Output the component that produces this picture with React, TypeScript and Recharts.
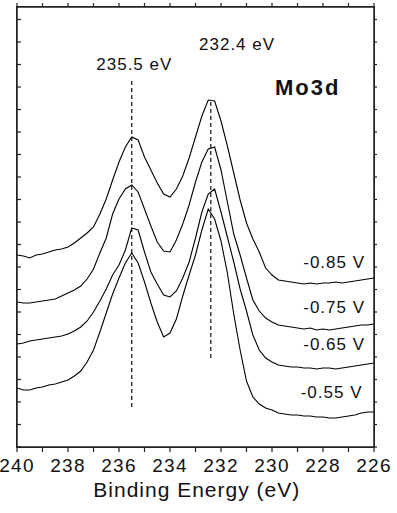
import { LineChart, Line, XAxis, YAxis, ReferenceLine, ReferenceDot } from "recharts";

const FONT = '"Liberation Sans", Arial, sans-serif';
const INK = "#111";
const FRAME = "#222";

// Binding energy grid (eV), high -> low as in the original scan
const ENERGY_EV = [
  240, 239.75, 239.5, 239.25, 239, 238.75, 238.5, 238.25, 238, 237.75, 237.5, 237.25, 237, 236.75,
  236.5, 236.25, 236, 235.75, 235.5, 235.25, 235, 234.75, 234.5, 234.25, 234, 233.75, 233.5, 233.25,
  233, 232.75, 232.5, 232.25, 232, 231.75, 231.5, 231.25, 231, 230.75, 230.5, 230.25, 230, 229.75,
  229.5, 229.25, 229, 228.75, 228.5, 228.25, 228, 227.75, 227.5, 227.25, 227, 226.75, 226.5, 226.25, 226,
];

// Intensity (a.u., spectra already offset for stacking)
const MO3D_085V = [
  192, 191, 189, 192, 193, 195, 197, 198, 200, 204, 209, 214, 220, 233, 248, 267, 285, 300, 310, 307,
  290, 277, 264, 253, 250, 258, 271, 289, 310, 331, 347, 346, 326, 301, 274, 247, 224, 208, 195, 179,
  172, 167, 166, 165, 164, 163, 164, 163, 164, 164, 165, 164, 165, 166, 167, 168, 169,
];
const MO3D_075V = [
  145, 144, 144, 145, 146, 147, 148, 151, 154, 157, 161, 168, 178, 194, 209, 233, 248, 258, 262, 255,
  238, 221, 205, 196, 195, 207, 223, 242, 265, 285, 298, 300, 277, 245, 213, 192, 169, 147, 136, 129,
  125, 122, 121, 120, 119, 118, 119, 117, 118, 117, 118, 119, 120, 121, 122, 122, 123,
];
const MO3D_065V = [
  103, 104, 106, 107, 108, 109, 110, 111, 113, 116, 120, 126, 135, 146, 158, 172, 182, 197, 219, 217,
  195, 175, 163, 152, 150, 156, 169, 185, 209, 235, 253, 258, 235, 210, 185, 158, 136, 112, 97, 89,
  85, 82, 81, 80, 80, 79, 79, 78, 79, 79, 78, 79, 80, 81, 82, 83, 84,
];
const MO3D_055V = [
  59, 57, 57, 59, 60, 62, 63, 65, 67, 71, 76, 85, 97, 115, 134, 153, 169, 184, 194, 184,
  165, 144, 125, 110, 114, 128, 151, 172, 192, 217, 238, 228, 206, 174, 133, 97, 66, 50, 43, 39,
  37, 34, 33, 32, 32, 31, 31, 30, 30, 29, 29, 30, 31, 32, 34, 35, 35,
];

const X_TICKS = [240, 239, 238, 237, 236, 235, 234, 233, 232, 231, 230, 229, 228, 227, 226];
const Y_TICKS = [
  0, 22.5, 45, 67.5, 90, 112.5, 135, 157.5, 180, 202.5, 225, 247.5, 270, 292.5, 315, 337.5, 360,
  382.5, 405, 427.5,
];

const rows = ENERGY_EV.map((e, i) => ({
  e,
  v085: MO3D_085V[i],
  v075: MO3D_075V[i],
  v065: MO3D_065V[i],
  v055: MO3D_055V[i],
}));

const SERIES = ["v085", "v075", "v065", "v055"];

function EnergyTick({ x, y, payload }: any) {
  if (payload.value % 2 !== 0) return <g />;
  return (
    <text
      x={x}
      y={y}
      dy="0.71em"
      textAnchor="middle"
      fontSize={19}
      fontFamily={FONT}
      fill={INK}
      style={{ letterSpacing: 1.2 }}
    >
      {payload.value}
    </text>
  );
}

// frame axes carry tick marks only
const NoLabel = () => <g />;

// text placed at a data point (cx, cy) via ReferenceDot
const note =
  (text: string, size: number, anchor = "middle", weight = "normal", spacing = 1) =>
  (p: any) => (
    <text
      x={p.cx}
      y={p.cy}
      textAnchor={anchor}
      fontSize={size}
      fontWeight={weight}
      fontFamily={FONT}
      fill={INK}
      style={{ letterSpacing: spacing }}
    >
      {text}
    </text>
  );

const axisLine = { stroke: FRAME, strokeWidth: 1.5 };
const tickLine = { stroke: FRAME, strokeWidth: 1.2 };

export default function App() {
  return (
    <div style={{ position: "absolute", left: 0, top: 0, width: 397, height: 513, background: "#fff" }}>
      <LineChart
        width={397}
        height={513}
        data={rows}
        margin={{ top: 0, right: 0, bottom: 6, left: 0 }}
      >
        <XAxis
          dataKey="e"
          type="number"
          domain={[226, 240]}
          reversed
          allowDataOverflow
          ticks={X_TICKS}
          interval={0}
          tick={<EnergyTick />}
          tickSize={5}
          tickMargin={7}
          tickLine={tickLine}
          axisLine={axisLine}
          height={60}
        />
        <XAxis
          xAxisId="top"
          orientation="top"
          dataKey="e"
          type="number"
          domain={[226, 240]}
          reversed
          allowDataOverflow
          ticks={X_TICKS}
          interval={0}
          tick={<NoLabel />}
          tickSize={4}
          tickLine={tickLine}
          axisLine={axisLine}
          height={7}
        />
        <YAxis
          type="number"
          domain={[0, 440]}
          allowDataOverflow
          ticks={Y_TICKS}
          interval={0}
          tick={<NoLabel />}
          tickSize={-4}
          tickLine={tickLine}
          axisLine={axisLine}
          width={17}
        />
        <YAxis
          yAxisId="right"
          orientation="right"
          type="number"
          domain={[0, 440]}
          allowDataOverflow
          ticks={Y_TICKS}
          interval={0}
          tick={<NoLabel />}
          tickSize={3}
          tickLine={tickLine}
          axisLine={axisLine}
          width={23}
        />

        <ReferenceLine
          segment={[{ x: 235.5, y: 40 }, { x: 235.5, y: 369 }]}
          stroke="#111"
          strokeWidth={1.2}
          strokeDasharray="4 3"
        />
        <ReferenceLine
          segment={[{ x: 232.4, y: 89 }, { x: 232.4, y: 345 }]}
          stroke="#111"
          strokeWidth={1.2}
          strokeDasharray="4 3"
        />

        {SERIES.map((key) => (
          <Line
            key={key}
            dataKey={key}
            type="linear"
            stroke="#000"
            strokeWidth={1.1}
            dot={false}
            isAnimationActive={false}
          />
        ))}

        <ReferenceDot x={235.4} y={377} r={0} ifOverflow="visible" shape={note("235.5 eV", 17)} />
        <ReferenceDot x={231.37} y={397} r={0} ifOverflow="visible" shape={note("232.4 eV", 17)} />
        <ReferenceDot x={228.6} y={352} r={0} ifOverflow="visible" shape={note("Mo3d", 22, "middle", "bold", 2)} />
        <ReferenceDot x={226.35} y={179} r={0} ifOverflow="visible" shape={note("-0.85 V", 17, "end")} />
        <ReferenceDot x={226.35} y={134} r={0} ifOverflow="visible" shape={note("-0.75 V", 17, "end")} />
        <ReferenceDot x={226.35} y={97} r={0} ifOverflow="visible" shape={note("-0.65 V", 17, "end")} />
        <ReferenceDot x={226.45} y={49} r={0} ifOverflow="visible" shape={note("-0.55 V", 17, "end")} />
        <ReferenceDot x={232.95} y={-50} r={0} ifOverflow="visible" shape={note("Binding Energy (eV)", 21, "middle", "normal", 1)} />
      </LineChart>
      {/* plot frame over the chart area (17..374 x 7..447) */}
      <div
        style={{
          position: "absolute",
          left: 16,
          top: 6,
          width: 359,
          height: 442,
          boxSizing: "border-box",
          border: `1.5px solid ${FRAME}`,
          pointerEvents: "none",
        }}
      />
    </div>
  );
}
